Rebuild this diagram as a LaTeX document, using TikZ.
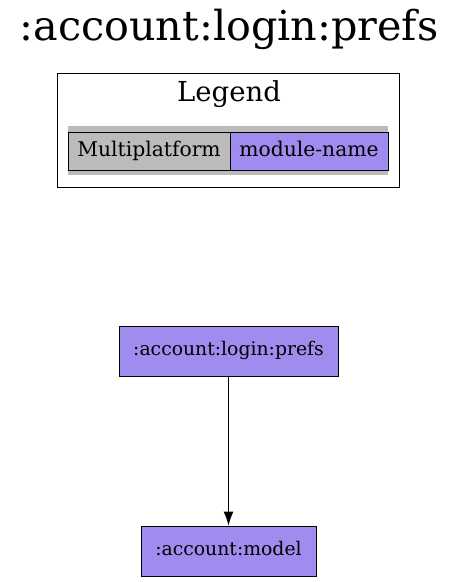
\documentclass[tikz,border=0pt]{standalone}
\usepackage{fontspec}
\setmainfont{DejaVu Serif}
\usetikzlibrary{arrows.meta}

\definecolor{modfill}{RGB}{160,140,238}
\definecolor{mpfill}{RGB}{187,187,187}

\begin{document}
\begin{tikzpicture}[
			x=1pt, y=-1pt,
			module/.style={
				rectangle,
				draw,
				fill=modfill,
				line width=0.9pt,
				minimum height=50pt,
				inner sep=0pt,
				text height=14pt,
				text depth=4.7pt,
				font=\fontsize{18.8}{22}\selectfont
			},
			cell/.style={
				rectangle,
				draw,
				line width=0.9pt,
				minimum height=38pt,
				inner sep=0pt,
				text height=15.2pt,
				text depth=5.1pt,
				font=\fontsize{20.3}{24}\selectfont
			},
			arrow/.style={
				-{Latex[length=14pt,width=10pt]},
				line width=0.9pt
			}
			]
			
			\useasboundingbox (0,0) rectangle (457,582);
			
			\node (title) [anchor=base] at (229,40) {\fontsize{41.3}{48}\selectfont :account:login:prefs};
			
			\draw [line width=0.9pt] (57,73) rectangle (399,187);
			\node (legend) [anchor=base] at (229,101.7) {\fontsize{27.5}{32}\selectfont Legend};
			\fill [mpfill] (68,126) rectangle (388,175);
			\node (mp) [cell, fill=mpfill, minimum width=162pt] at (149,151) {Multiplatform};
			\node (name) [cell, fill=modfill, minimum width=158pt] at (309,151) {module-name};
			
			\node (prefs) [module, minimum width=219pt] at (228.5,351) {:account:login:prefs};
			\node (model) [module, minimum width=175pt] at (228.5,551) {:account:model};
			
			\draw [arrow] (prefs) -- (model);
			
		\end{tikzpicture}
\end{document}
